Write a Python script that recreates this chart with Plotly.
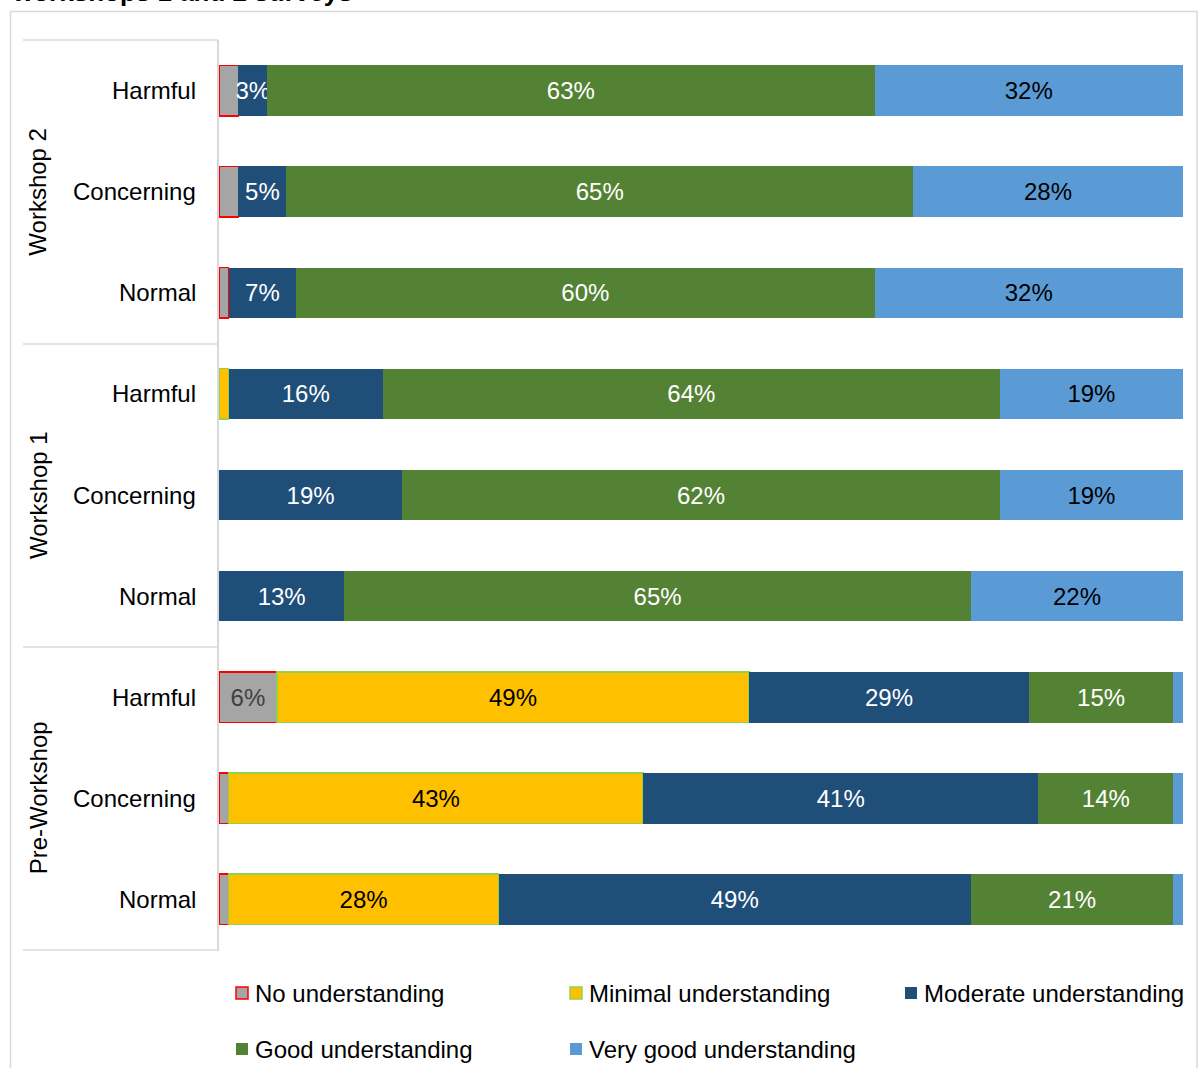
import plotly.graph_objects as go

# ---- data -------------------------------------------------------------
groups = ["Workshop 2", "Workshop 1", "Pre-Workshop"]
categories = ["Harmful", "Concerning", "Normal"]

# rows listed top to bottom: each group holds Harmful, Concerning, Normal
no_understanding = [2, 2, 1, None, None, None, 6, 1, 1]
minimal_understanding = [None, None, None, 1, None, None, 49, 43, 28]
moderate_understanding = [3, 5, 7, 16, 19, 13, 29, 41, 49]
good_understanding = [63, 65, 60, 64, 62, 65, 15, 14, 21]
very_good_understanding = [32, 28, 32, 19, 19, 22, 1, 1, 1]

series_names = [
    "No understanding",
    "Minimal understanding",
    "Moderate understanding",
    "Good understanding",
    "Very good understanding",
]

# ---- styling ----------------------------------------------------------
FONT = "Liberation Sans, Arial, sans-serif"
W, H = 1198, 1068
PLOT_L, PLOT_R, PLOT_T, PLOT_B = 219, 1183, 40, 950
GRID = "#D9D9D9"

styles = [
    dict(fill="#A5A5A5", line="#FF0000", lw=1.5, text="#404040"),
    dict(fill="#FFC000", line="#92D050", lw=1.5, text="#000000"),
    dict(fill="#1F4E79", line="#1F4E79", lw=0, text="#FFFFFF"),
    dict(fill="#548235", line="#548235", lw=0, text="#FFFFFF"),
    dict(fill="#5B9BD5", line="#5B9BD5", lw=0, text="#000000"),
]


def px_x(px):
    return (px - PLOT_L) / (PLOT_R - PLOT_L)


def px_y(py):
    return (PLOT_B - py) / (PLOT_B - PLOT_T)


row_keys = [f"{g} | {c}" for g in groups for c in categories]
series_values = [
    no_understanding,
    minimal_understanding,
    moderate_understanding,
    good_understanding,
    very_good_understanding,
]

fig = go.Figure()
for name, vals, st in zip(series_names, series_values, styles):
    labels = [f"{v}%" if (v is not None and v >= 3) else "" for v in vals]
    fig.add_trace(
        go.Bar(
            name=name,
            y=row_keys,
            x=vals,
            orientation="h",
            marker=dict(color=st["fill"], line=dict(color=st["line"], width=st["lw"])),
            text=labels,
            textposition="inside",
            insidetextanchor="middle",
            textangle=0,
            textfont=dict(family=FONT, size=24, color=st["text"]),
            constraintext="none",
            cliponaxis=False,
            showlegend=False,
            hoverinfo="skip",
        )
    )

shapes = []
annotations = []

# outer chart frame
shapes.append(dict(type="rect", xref="paper", yref="paper",
                   x0=px_x(10.5), x1=px_x(1197), y0=px_y(1100), y1=px_y(11.5),
                   line=dict(color=GRID, width=1.5), fillcolor="rgba(0,0,0,0)", layer="below"))

# category axis line and group separators
shapes.append(dict(type="line", xref="paper", yref="paper",
                   x0=px_x(218), x1=px_x(218), y0=px_y(951), y1=px_y(40),
                   line=dict(color=GRID, width=2)))
for sep in (40, 344, 647, 950):
    shapes.append(dict(type="line", xref="paper", yref="paper",
                       x0=px_x(23), x1=px_x(218), y0=px_y(sep), y1=px_y(sep),
                       line=dict(color=GRID, width=1.5)))

# category labels
for key, cat in zip(row_keys, categories * len(groups)):
    annotations.append(dict(xref="paper", yref="y", x=px_x(198), y=key,
                            text=cat, showarrow=False, xanchor="right", yanchor="middle",
                            font=dict(family=FONT, size=24, color="#000000")))

# group labels (rotated)
for gi, g in enumerate(groups):
    annotations.append(dict(xref="paper", yref="y", x=px_x(38), y=row_keys[gi * 3 + 1],
                            text=g, showarrow=False, textangle=-90,
                            xanchor="center", yanchor="middle",
                            font=dict(family=FONT, size=24, color="#000000")))

# title (partly above the page edge)
annotations.append(dict(xref="paper", yref="paper", x=px_x(10), y=px_y(9),
                        text="<b>workshops 1 and 2 surveys</b>", showarrow=False,
                        xanchor="left", yanchor="bottom",
                        font=dict(family=FONT, size=26, color="#000000")))

# legend drawn as swatches + labels
legend_pos = [(236, 993), (570, 993), (905, 993), (236, 1049), (570, 1049)]
for (lx, ly), name, st in zip(legend_pos, series_names, styles):
    shapes.append(dict(type="rect", xref="paper", yref="paper",
                       x0=px_x(lx), x1=px_x(lx + 12), y0=px_y(ly + 6), y1=px_y(ly - 6),
                       fillcolor=st["fill"],
                       line=dict(color=st["line"], width=st["lw"] if st["lw"] else 0)))
    annotations.append(dict(xref="paper", yref="paper", x=px_x(lx + 17), y=px_y(ly),
                            text=name, showarrow=False, xanchor="left", yanchor="middle",
                            font=dict(family=FONT, size=24, color="#000000")))

fig.update_layout(
    width=W, height=H,
    margin=dict(l=PLOT_L, r=W - PLOT_R, t=PLOT_T, b=H - PLOT_B, pad=0),
    barmode="stack",
    bargap=0.5,
    paper_bgcolor="white",
    plot_bgcolor="white",
    font=dict(family=FONT, size=24, color="#000000"),
    uniformtext=dict(minsize=24, mode="show"),
    xaxis=dict(range=[0, 100], showgrid=False, zeroline=False, showticklabels=False,
               ticks="", showline=False, fixedrange=True),
    yaxis=dict(autorange="reversed", showgrid=False, zeroline=False, showticklabels=False,
               ticks="", showline=False, fixedrange=True),
    shapes=shapes,
    annotations=annotations,
    showlegend=False,
)

fig.write_html("out.html", config={"displayModeBar": False})
